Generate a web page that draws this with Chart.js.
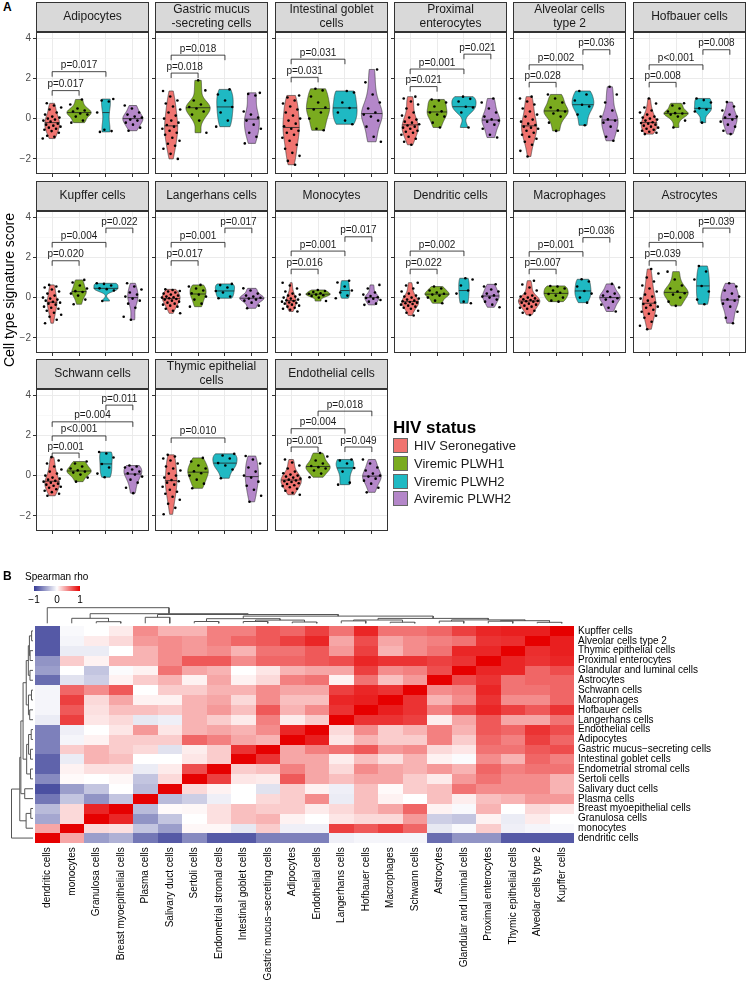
<!DOCTYPE html>
<html>
<head>
<meta charset="utf-8">
<script src="https://cdn.jsdelivr.net/npm/chart.js@4.4.1/dist/chart.umd.min.js"></script>
<style>
  body { margin: 0; background: #fff; font-family: "Liberation Sans", Arial, sans-serif; }
  #page { position: relative; width: 747px; height: 982px; overflow: hidden; }
  #page canvas { position: absolute; }
  .lbl { position: absolute; white-space: nowrap; color: #000; }
</style>
</head>
<body>
<div id="page"></div>
<script>
// ---------- panel A data ----------
const groupNames = ['HIV Seronegative', 'Viremic PLWH1', 'Viremic PLWH2', 'Aviremic PLWH2'];
const yTicks = [-2, -1, 0, 1, 2, 3, 4];
const panelTitles = ['Adipocytes', 'Gastric mucus\n-secreting cells', 'Intestinal goblet\ncells',
  'Proximal\nenterocytes', 'Alveolar cells\ntype 2', 'Hofbauer cells', 'Kupffer cells',
  'Langerhans cells', 'Monocytes', 'Dendritic cells', 'Macrophages', 'Astrocytes',
  'Schwann cells', 'Thymic epithelial\ncells', 'Endothelial cells'];

// signature scores per group (seronegative, viremic1, viremic2, aviremic)
const adipocytes = [
  [-0.99,-0.9,-0.85,-0.7,-0.62,-0.55,-0.5,-0.45,-0.4,-0.35,-0.3,-0.25,-0.15,-0.1,-0.05,0,0.05,0.1,0.2,0.3,0.45,0.55,0.65,0.76],
  [-0.2,-0.1,0.1,0.2,0.25,0.35,0.4,0.5,0.7,0.95],
  [-0.66,-0.62,-0.55,0.3,0.85,0.9,0.97],
  [-0.6,-0.45,-0.3,-0.2,-0.1,-0.05,0.05,0.1,0.2,0.3,0.5,0.65]];
const gastric = [
  [-2.0,-1.75,-1.5,-1.35,-1.25,-1.1,-0.95,-0.8,-0.7,-0.6,-0.5,-0.4,-0.32,-0.2,-0.1,0,0.15,0.3,0.45,0.6,0.75,0.9,1.1,1.37],
  [-0.7,-0.1,0.2,0.35,0.5,0.58,0.7,0.9,1.4,1.9],
  [-0.4,-0.1,0.3,0.58,0.9,1.2,1.45],
  [-1.23,-0.9,-0.7,-0.5,-0.3,-0.1,0.05,0.2,0.35,1.15,1.22,1.28]];
const intestinal = [
  [-2.29,-2.1,-1.85,-1.7,-1.5,-1.3,-1.1,-0.95,-0.8,-0.7,-0.6,-0.5,-0.38,-0.25,-0.1,0,0.15,0.3,0.45,0.6,0.75,0.9,1.05,1.15],
  [-0.58,-0.5,0,0.3,0.45,0.55,0.8,1.1,1.4,1.48],
  [-0.28,-0.1,0.3,0.53,0.8,1.3,1.37],
  [-1.15,-0.9,-0.4,-0.1,0.1,0.2,0.3,0.5,0.8,1.2,1.8,2.44]];
const proximal = [
  [-1.3,-1.15,-1.0,-0.9,-0.8,-0.7,-0.65,-0.6,-0.5,-0.45,-0.4,-0.34,-0.28,-0.2,-0.15,-0.05,0.05,0.15,0.3,0.5,0.7,0.85,1.0,1.09],
  [-0.44,-0.2,0.1,0.2,0.3,0.36,0.6,0.8,0.9,0.95],
  [-0.44,0.3,0.55,0.59,0.85,0.98,1.09],
  [-0.94,-0.8,-0.5,-0.3,-0.15,-0.1,-0.04,0.1,0.3,0.5,0.8,1.0]];
const alveolar = [
  [-1.88,-1.6,-1.3,-1.15,-1.0,-0.9,-0.8,-0.7,-0.6,-0.5,-0.45,-0.4,-0.32,-0.25,-0.15,-0.05,0.1,0.2,0.35,0.5,0.7,0.85,1.0,1.09],
  [-0.61,-0.2,0.1,0.25,0.35,0.41,0.55,0.8,1.0,1.2],
  [-0.33,0.2,0.6,0.69,0.9,1.2,1.37],
  [-1.1,-0.9,-0.6,-0.4,-0.2,-0.1,-0.04,0.1,0.4,0.8,1.2,1.58]];
const hofbauer = [
  [-0.77,-0.7,-0.65,-0.6,-0.55,-0.5,-0.45,-0.4,-0.35,-0.3,-0.25,-0.22,-0.18,-0.1,-0.05,0,0.05,0.1,0.2,0.3,0.4,0.55,0.75,1.0],
  [-0.44,-0.1,0.1,0.2,0.25,0.27,0.35,0.5,0.65,0.76],
  [-0.2,0.35,0.45,0.51,0.8,0.92,1.0],
  [-0.77,-0.6,-0.4,-0.3,-0.15,-0.05,0.05,0.1,0.2,0.4,0.6,0.82]];
const kupffer = [
  [-1.27,-1.1,-0.95,-0.85,-0.75,-0.65,-0.55,-0.5,-0.45,-0.35,-0.3,-0.25,-0.21,-0.15,-0.1,-0.05,0,0.1,0.2,0.3,0.4,0.5,0.55,0.63],
  [-0.33,-0.1,0.1,0.2,0.28,0.32,0.45,0.6,0.75,0.88],
  [-0.17,0.35,0.42,0.46,0.6,0.68,0.71],
  [-1.1,-0.95,-0.5,-0.3,-0.15,-0.05,0.05,0.15,0.25,0.4,0.55,0.71]];
const langerhans = [
  [-0.78,-0.65,-0.55,-0.45,-0.4,-0.35,-0.3,-0.25,-0.2,-0.15,-0.1,-0.07,-0.03,0,0.02,0.05,0.1,0.15,0.2,0.25,0.3,0.33,0.38,0.41],
  [-0.45,-0.3,-0.1,0.05,0.15,0.21,0.35,0.45,0.55,0.63],
  [-0.03,0.05,0.25,0.33,0.5,0.62,0.68],
  [-0.53,-0.4,-0.25,-0.15,-0.1,-0.05,-0.01,0.05,0.1,0.2,0.35,0.46]];
const monocytes = [
  [-0.69,-0.6,-0.55,-0.5,-0.45,-0.4,-0.35,-0.3,-0.27,-0.24,-0.2,-0.17,-0.13,-0.1,-0.05,0,0.05,0.1,0.15,0.2,0.3,0.45,0.6,0.74],
  [-0.17,0,0.08,0.12,0.15,0.19,0.22,0.28,0.33,0.38],
  [-0.03,0.1,0.25,0.35,0.55,0.75,0.84],
  [-0.36,-0.3,-0.2,-0.12,-0.06,-0.02,0.02,0.08,0.15,0.25,0.45,0.63]];
const dendritic = [
  [-0.89,-0.75,-0.65,-0.55,-0.5,-0.45,-0.4,-0.35,-0.32,-0.28,-0.25,-0.22,-0.18,-0.15,-0.1,-0.05,0,0.05,0.1,0.2,0.3,0.45,0.6,0.74],
  [-0.28,-0.15,0,0.1,0.15,0.19,0.25,0.35,0.45,0.55],
  [-0.28,-0.2,0.2,0.35,0.6,0.9,0.96],
  [-0.48,-0.35,-0.2,-0.1,0,0.05,0.11,0.2,0.3,0.4,0.55,0.66]];
const macrophages = [
  [-0.86,-0.75,-0.65,-0.55,-0.5,-0.45,-0.4,-0.35,-0.3,-0.25,-0.2,-0.18,-0.16,-0.12,-0.08,-0.04,0,0.05,0.1,0.2,0.35,0.5,0.65,0.84],
  [-0.2,-0.15,0,0.1,0.18,0.24,0.35,0.45,0.55,0.58],
  [-0.25,0,0.2,0.33,0.55,0.8,0.91],
  [-0.69,-0.5,-0.35,-0.2,-0.1,-0.03,0.03,0.1,0.2,0.3,0.5,0.68]];
const astrocytes = [
  [-1.57,-1.4,-1.2,-1.0,-0.9,-0.8,-0.7,-0.6,-0.5,-0.45,-0.38,-0.32,-0.24,-0.15,-0.05,0.05,0.15,0.3,0.45,0.6,0.8,1.0,1.2,1.42],
  [-0.41,-0.2,0,0.15,0.22,0.3,0.45,0.6,0.9,1.29],
  [-0.33,-0.1,0.3,0.58,0.9,1.3,1.57],
  [-1.27,-1.0,-0.7,-0.45,-0.3,-0.15,-0.09,0.05,0.2,0.35,0.55,0.71]];
const schwann = [
  [-1.0,-0.9,-0.82,-0.75,-0.68,-0.6,-0.55,-0.5,-0.45,-0.4,-0.35,-0.3,-0.26,-0.2,-0.15,-0.1,0,0.1,0.2,0.3,0.45,0.6,0.75,0.92],
  [-0.3,-0.1,0.05,0.15,0.2,0.26,0.35,0.45,0.6,0.7],
  [-0.08,0.1,0.4,0.58,0.9,1.1,1.17],
  [-0.87,-0.6,-0.35,-0.2,-0.05,0.05,0.11,0.2,0.3,0.4,0.45,0.5]];
const thymic = [
  [-1.92,-1.6,-1.4,-1.2,-1.05,-0.9,-0.8,-0.7,-0.55,-0.45,-0.35,-0.28,-0.22,-0.1,0,0.1,0.25,0.35,0.45,0.6,0.75,0.85,0.95,1.03],
  [-0.63,-0.4,-0.2,0,0.12,0.22,0.35,0.5,0.7,0.88],
  [-0.13,0.3,0.5,0.62,0.85,1.0,1.08],
  [-1.3,-1.0,-0.7,-0.5,-0.3,-0.1,0,0.2,0.4,0.6,0.8,0.97]];
const endothelial = [
  [-0.95,-0.85,-0.75,-0.65,-0.58,-0.52,-0.48,-0.42,-0.38,-0.32,-0.28,-0.24,-0.2,-0.15,-0.1,-0.05,0,0.05,0.12,0.2,0.35,0.5,0.65,0.8],
  [-0.08,0.1,0.25,0.35,0.42,0.48,0.6,0.75,0.95,1.12],
  [-0.45,-0.35,0.2,0.38,0.6,0.75,0.8],
  [-0.83,-0.6,-0.4,-0.25,-0.15,-0.05,0,0.1,0.25,0.4,0.6,0.8]];

// pairwise tests: [group a, group b, label]
const comparisons = [
  [[1,2,'p=0.017'],[1,3,'p=0.017']],
  [[1,2,'p=0.018'],[1,3,'p=0.018']],
  [[1,2,'p=0.031'],[1,3,'p=0.031']],
  [[1,2,'p=0.021'],[1,3,'p=0.001'],[3,4,'p=0.021']],
  [[1,2,'p=0.028'],[1,3,'p=0.002'],[3,4,'p=0.036']],
  [[1,2,'p=0.008'],[1,3,'p<0.001'],[3,4,'p=0.008']],
  [[1,2,'p=0.020'],[1,3,'p=0.004'],[3,4,'p=0.022']],
  [[1,2,'p=0.017'],[1,3,'p=0.001'],[3,4,'p=0.017']],
  [[1,2,'p=0.016'],[1,3,'p=0.001'],[3,4,'p=0.017']],
  [[1,2,'p=0.022'],[1,3,'p=0.002']],
  [[1,2,'p=0.007'],[1,3,'p=0.001'],[3,4,'p=0.036']],
  [[1,2,'p=0.039'],[1,3,'p=0.008'],[3,4,'p=0.039']],
  [[1,2,'p=0.001'],[1,3,'p<0.001'],[1,4,'p=0.004'],[3,4,'p=0.011']],
  [[1,3,'p=0.010']],
  [[1,2,'p=0.001'],[3,4,'p=0.049'],[1,3,'p=0.004'],[2,4,'p=0.018']]
];
// bracket heights (score units)
const bracketY = [
  [1.39,2.33],[2.26,3.15],[2.05,2.95],[1.59,2.46,3.2],[1.8,2.67,3.42],[1.8,2.67,3.42],
  [1.83,2.74,3.45],[1.83,2.74,3.45],[1.41,2.31,3.02],[1.41,2.31],[1.41,2.28,2.98],[1.83,2.74,3.45],
  [1.12,1.97,2.67,3.5],[1.87],[1.42,1.42,2.33,3.2]
];

// ---------- panel B data ----------
const cellTypes = ['dendritic cells','monocytes','Granulosa cells','Breast myoepithelial cells','Plasma cells',
  'Salivary duct cells','Sertoli cells','Endometrial stromal cells','Intestinal goblet cells',
  'Gastric mucus\u2212secreting cells','Adipocytes','Endothelial cells','Langerhans cells','Hofbauer cells',
  'Macrophages','Schwann cells','Astrocytes','Glandular and luminal cells','Proximal enterocytes',
  'Thymic epithelial cells','Alveolar cells type 2','Kupffer cells'];
const rowTypes = cellTypes.slice().reverse();
// Spearman rho, rows top->bottom (rowTypes), columns left->right (cellTypes)
const rho = [
  [-0.85,-0.03,0,0.08,0.45,0.3,0.3,0.5,0.5,0.65,0.6,0.75,0.55,0.85,0.55,0.55,0.6,0.75,0.85,0.88,0.88,1],
  [-0.85,-0.05,0.08,0.15,0.4,0.45,0.4,0.5,0.6,0.65,0.75,0.85,0.35,0.7,0.35,0.45,0.5,0.55,0.8,0.82,1,0.88],
  [-0.85,-0.1,-0.1,0,0.3,0.45,0.4,0.45,0.3,0.55,0.55,0.65,0.4,0.75,0.3,0.45,0.55,0.85,0.85,1,0.82,0.88],
  [-0.55,0.2,0.05,0.3,0.3,0.45,0.65,0.65,0.45,0.6,0.6,0.65,0.7,0.85,0.8,0.8,0.75,0.8,1,0.85,0.8,0.85],
  [-0.5,0,-0.3,-0.02,0.05,0.55,0.35,0.3,0,0.1,0.3,0.35,0.35,0.75,0.45,0.5,0.7,1,0.85,0.85,0.6,0.7],
  [-0.75,-0.15,-0.25,0.05,0.2,0.3,0.05,0.35,0.05,0.15,0.5,0.55,0.05,0.55,0.25,0.4,1,0.7,0.8,0.55,0.6,0.6],
  [-0.05,0.6,0.45,0.65,0,0.2,0.2,0.3,0.3,0.45,0.35,0.35,0.75,0.85,0.8,1,0.45,0.5,0.85,0.55,0.55,0.6],
  [-0.05,0.75,0.15,0.35,0.05,0.05,0.3,0.35,0.15,0.45,0.25,0.25,0.85,0.88,1,0.8,0.3,0.45,0.8,0.45,0.45,0.6],
  [-0.05,0.65,0.12,0.25,0.25,0.2,0.3,0.4,0.25,0.65,0.3,0.45,0.8,1,0.88,0.8,0.5,0.7,0.85,0.75,0.65,0.8],
  [-0.1,0.75,0.1,0.15,-0.12,-0.08,0.3,0.2,0.08,0.5,0.08,0.2,1,0.8,0.8,0.75,0.07,0.35,0.65,0.35,0.35,0.55],
  [-0.65,-0.08,0,0.1,0.4,0.1,0.3,0.35,0.3,0.45,0.85,1,0.15,0.45,0.2,0.3,0.5,0.3,0.65,0.6,0.8,0.7],
  [-0.65,-0.05,0.05,0.2,0.2,0.2,0.6,0.5,0.35,0.3,1,0.88,0.1,0.3,0.2,0.2,0.5,0.2,0.6,0.5,0.75,0.6],
  [-0.65,0.2,0.3,0.2,0.15,-0.15,0.07,0.2,0.8,1,0.35,0.5,0.55,0.65,0.4,0.45,0.15,0.1,0.55,0.55,0.65,0.7],
  [-0.8,-0.1,0.3,0.25,0,0,0.1,0.2,1,0.8,0.35,0.35,0.07,0.25,0.12,0.3,0.05,-0.02,0.45,0.3,0.6,0.5],
  [-0.8,0.05,0.12,0.12,-0.1,0.08,0.7,1,0.2,0.25,0.5,0.35,0.15,0.45,0.35,0.3,0.4,0.3,0.6,0.5,0.55,0.55],
  [-0.6,0.02,0,0.03,-0.3,0.15,1,0.75,0.1,0.08,0.65,0.35,0.25,0.35,0.35,0.2,0.08,0.4,0.55,0.45,0.45,0.3],
  [-0.9,-0.5,-0.3,0,-0.35,1,0.15,0.05,0,-0.15,0.2,0.05,-0.08,0.25,0.02,0.2,0.25,0.55,0.45,0.45,0.45,0.3],
  [-0.7,-0.3,-0.55,-0.3,1,-0.35,-0.25,-0.08,0,0.15,0.2,0.45,-0.1,0.25,0.05,0,0.25,0.07,0.25,0.3,0.4,0.4],
  [-0.35,0.15,0.85,1,-0.35,0.02,0.03,0.12,0.25,0.2,0.2,0.08,0.15,0.25,0.35,0.6,0.05,-0.03,0.3,0,0.15,0.1],
  [-0.45,0.15,1,0.85,-0.55,-0.3,0,0.12,0.25,0.3,0.05,0,0.1,0.15,0.15,0.4,-0.25,-0.3,0.05,-0.1,0.08,0],
  [0.35,1,0.15,0.12,-0.3,-0.5,0.03,0.03,-0.12,0.2,-0.08,-0.08,0.75,0.65,0.75,0.6,-0.12,-0.03,0.2,-0.08,-0.05,-0.03],
  [1,0.35,-0.5,-0.4,-0.7,-0.85,-0.6,-0.85,-0.85,-0.65,-0.65,-0.65,-0.08,-0.05,-0.05,-0.05,-0.75,-0.55,-0.55,-0.85,-0.85,-0.85]
];
// hierarchical clustering of cellTypes: [left, right, height]; >=0 leaf index, -k merge k
const merges = [
  [2, 3, 1.6], [1, -1, 5.0], [4, 5, 6.0], [6, 7, 1.8], [8, 9, 1.8], [10, 11, 1.3],
  [-5, -6, 3.2], [-4, -7, 4.6], [12, 13, 2.4], [14, 15, 1.1], [-9, -10, 3.3],
  [16, 17, 2.2], [18, 19, 2.1], [20, 21, 1.0], [-13, -14, 2.6], [-12, -15, 3.4],
  [-11, -16, 4.9], [-8, -17, 7.2], [-3, -18, 8.8], [-2, -19, 9.6], [0, -20, 15.6]
];

// ---------- helpers ----------
const FONT = '"Liberation Sans", Arial, sans-serif';
const groupFill = ['#F07470', '#7AAB1F', '#1FB9C3', '#B487C9'];
const panelScores = [adipocytes, gastric, intestinal, proximal, alveolar, hofbauer, kupffer,
  langerhans, monocytes, dendritic, macrophages, astrocytes, schwann, thymic, endothelial];
const page = document.getElementById('page');

function addText(txt, left, top, css) {
  const d = document.createElement('div');
  d.className = 'lbl';
  d.textContent = txt;
  d.style.left = left + 'px';
  d.style.top = top + 'px';
  if (css) d.style.cssText += css;
  page.appendChild(d);
  return d;
}
function addCanvas(left, top, w, h) {
  const c = document.createElement('canvas');
  c.width = w; c.height = h;
  c.style.left = left + 'px'; c.style.top = top + 'px';
  page.appendChild(c);
  return c;
}
function quantile(s, p) {
  const h = (s.length - 1) * p, lo = Math.floor(h);
  return s[lo] + (h - lo) * ((s[lo + 1] !== undefined ? s[lo + 1] : s[lo]) - s[lo]);
}
function kde(vals) {
  const s = vals.slice().sort((a, b) => a - b), n = s.length;
  const mean = s.reduce((a, b) => a + b, 0) / n;
  const sd = Math.sqrt(s.reduce((a, b) => a + (b - mean) * (b - mean), 0) / (n - 1));
  const iqr = quantile(s, 0.75) - quantile(s, 0.25);
  const bw = 0.9 * Math.min(sd, iqr / 1.34) * Math.pow(n, -0.2);
  const out = [];
  for (let i = 0; i < 128; i++) {
    const y = s[0] + (s[n - 1] - s[0]) * i / 127;
    let d = 0;
    for (const v of s) { const z = (y - v) / bw; d += Math.exp(-0.5 * z * z); }
    out.push([y, d / (n * bw * Math.sqrt(2 * Math.PI))]);
  }
  return { pts: out, median: quantile(s, 0.5) };
}
function jit(k) { return (((k * 0.6180339887) % 1) - 0.5) * 0.7; }

// ---------- panel A ----------
function makePanel(idx) {
  const col = idx % 6, row = Math.floor(idx / 6);
  const plotLeft = Math.round(36 + col * 119.3);
  const stripTop = Math.round(2 + row * 178.7);
  const cv = addCanvas(plotLeft - 24, stripTop, 140, 180);
  const scores = panelScores[idx];
  const dens = scores.map(kde);
  const maxD = Math.max(...dens.map(d => Math.max(...d.pts.map(p => p[1]))));

  const deco = {
    id: 'deco' + idx,
    beforeDatasetsDraw(chart) {
      const { ctx, scales: { x, y } } = chart;
      dens.forEach((d, g) => {
        const cx = g + 1;
        ctx.save();
        ctx.beginPath();
        d.pts.forEach((p, i) => {
          const px = x.getPixelForValue(cx + 0.45 * p[1] / maxD), py = y.getPixelForValue(p[0]);
          i ? ctx.lineTo(px, py) : ctx.moveTo(px, py);
        });
        for (let i = d.pts.length - 1; i >= 0; i--) {
          const p = d.pts[i];
          ctx.lineTo(x.getPixelForValue(cx - 0.45 * p[1] / maxD), y.getPixelForValue(p[0]));
        }
        ctx.closePath();
        ctx.fillStyle = groupFill[g];
        ctx.fill();
        ctx.strokeStyle = '#333';
        ctx.lineWidth = 0.6;
        ctx.stroke();
        // median line
        let hw = 0;
        for (let i = 1; i < d.pts.length; i++) {
          if (d.pts[i][0] >= d.median) {
            const a = d.pts[i - 1], b = d.pts[i], t = (d.median - a[0]) / (b[0] - a[0] || 1);
            hw = 0.45 * (a[1] + t * (b[1] - a[1])) / maxD;
            break;
          }
        }
        ctx.beginPath();
        ctx.moveTo(x.getPixelForValue(cx - hw), y.getPixelForValue(d.median));
        ctx.lineTo(x.getPixelForValue(cx + hw), y.getPixelForValue(d.median));
        ctx.strokeStyle = '#222';
        ctx.lineWidth = 0.8;
        ctx.stroke();
        ctx.restore();
      });
    },
    afterDatasetsDraw(chart) {
      const { ctx, scales: { x, y } } = chart;
      ctx.save();
      ctx.strokeStyle = '#1a1a1a';
      ctx.fillStyle = '#1a1a1a';
      ctx.lineWidth = 0.8;
      ctx.font = '10px ' + FONT;
      ctx.textAlign = 'center';
      ctx.textBaseline = 'alphabetic';
      comparisons[idx].forEach((c, k) => {
        const lv = bracketY[idx][k];
        const x1 = x.getPixelForValue(c[0]), x2 = x.getPixelForValue(c[1]);
        const yl = y.getPixelForValue(lv), yb = y.getPixelForValue(lv - 0.25);
        ctx.beginPath();
        ctx.moveTo(x1, yb); ctx.lineTo(x1, yl); ctx.lineTo(x2, yl); ctx.lineTo(x2, yb);
        ctx.stroke();
        ctx.fillText(c[2], (x1 + x2) / 2, yl - 3.5);
      });
      ctx.restore();
    },
    afterDraw(chart) {
      const { ctx, chartArea: a } = chart;
      ctx.save();
      ctx.strokeStyle = '#333';
      ctx.lineWidth = 1;
      ctx.strokeRect(a.left + 0.5, a.top + 0.5, a.right - a.left - 1, a.bottom - a.top - 1);
      // facet strip
      ctx.fillStyle = '#D9D9D9';
      ctx.fillRect(a.left, a.top - 30, a.right - a.left, 30);
      ctx.strokeRect(a.left + 0.5, a.top - 29.5, a.right - a.left - 1, 29);
      ctx.fillStyle = '#1a1a1a';
      ctx.font = '12px ' + FONT;
      ctx.textAlign = 'center';
      ctx.textBaseline = 'middle';
      const lines = panelTitles[idx].split('\n');
      const cxp = (a.left + a.right) / 2, cyp = a.top - 15;
      lines.forEach((t, i) => ctx.fillText(t, cxp, cyp + (i - (lines.length - 1) / 2) * 14));
      ctx.restore();
    }
  };

  const isMajor = v => v % 2 === 0;
  new Chart(cv, {
    type: 'scatter',
    data: {
      datasets: scores.map((arr, g) => ({
        data: arr.map((v, k) => ({ x: g + 1 + jit(k + g * 5 + idx * 3), y: v })),
        pointRadius: 1.3,
        pointBackgroundColor: '#000',
        pointBorderWidth: 0,
        pointHoverRadius: 0
      }))
    },
    options: {
      responsive: false,
      animation: false,
      events: [],
      layout: { padding: { top: 30, right: 3, bottom: 1, left: 0 } },
      plugins: { legend: { display: false }, tooltip: { enabled: false } },
      scales: {
        x: {
          type: 'linear', min: 0.4, max: 4.6,
          afterBuildTicks: s => { s.ticks = [1, 2, 3, 4].map(v => ({ value: v })); },
          afterFit: s => { s.height = 6; },
          ticks: { display: false },
          grid: { color: '#EBEBEB', lineWidth: 1, tickColor: '#333', tickLength: 3, tickWidth: 1 },
          border: { display: false }
        },
        y: {
          type: 'linear', min: -2.75, max: 4.3,
          afterBuildTicks: s => { s.ticks = yTicks.map(v => ({ value: v })); },
          afterFit: s => { s.width = 24; },
          ticks: {
            padding: 2, color: '#4D4D4D', font: { size: 10, family: FONT },
            callback: v => (col === 0 && isMajor(v)) ? (v < 0 ? '\u2212' + (-v) : String(v)) : ''
          },
          grid: {
            color: c => isMajor(c.tick.value) ? '#EBEBEB' : '#F3F3F3',
            lineWidth: c => isMajor(c.tick.value) ? 1 : 0.6,
            tickColor: c => isMajor(c.tick.value) ? '#333' : 'rgba(0,0,0,0)',
            tickLength: 3, tickWidth: 1
          },
          border: { display: false }
        }
      }
    },
    plugins: [deco]
  });
}
panelScores.forEach((_, i) => makePanel(i));

addText('A', 3, 0, 'font-weight:bold;font-size:12px;');
addText('Cell type signature score', 8.5, 290,
  'font-size:14px;transform:translate(-50%,-50%) rotate(-90deg);');

// legend
addText('HIV status', 393, 418, 'font-weight:bold;font-size:17px;');
groupNames.forEach((n, i) => {
  const top = Math.round(438 + i * 17.8);
  addText('', 393, top, 'width:15px;height:15px;box-sizing:border-box;border:1px solid #666;background:' + groupFill[i] + ';');
  addText(n, 414, top - 0.5, 'font-size:13px;line-height:16px;color:#1a1a1a;');
});

// ---------- panel B ----------
addText('B', 3, 569, 'font-weight:bold;font-size:12px;');
addText('Spearman rho', 25, 571, 'font-size:10px;');
addText('', 34, 586, 'width:46px;height:5px;background:linear-gradient(to right, rgb(55,60,150), #fff, rgb(230,0,0));');
addText('\u22121', 34, 594, 'font-size:10px;transform:translateX(-50%);');
addText('0', 57, 594, 'font-size:10px;transform:translateX(-50%);');
addText('1', 80, 594, 'font-size:10px;transform:translateX(-50%);');

function rhoColor(v) {
  const t = Math.min(1, Math.abs(v));
  const end = v >= 0 ? [230, 0, 0] : [55, 60, 150];
  const c = end.map(e => Math.round(255 + (e - 255) * t));
  return 'rgb(' + c.join(',') + ')';
}

const cells = {
  id: 'cells',
  beforeDatasetsDraw(chart) {
    const { ctx, scales: { x, y } } = chart;
    rho.forEach((r, i) => r.forEach((v, j) => {
      const x0 = Math.round(x.getPixelForValue(j - 0.5)), x1 = Math.round(x.getPixelForValue(j + 0.5));
      const y0 = Math.round(y.getPixelForValue(i - 0.5)), y1 = Math.round(y.getPixelForValue(i + 0.5));
      ctx.fillStyle = rhoColor(v);
      ctx.fillRect(x0, y0, x1 - x0, y1 - y0);
    }));
  }
};
const idxTicks = s => { s.ticks = cellTypes.map((_, i) => ({ value: i })); };
new Chart(addCanvas(0, 600, 747, 382), {
  type: 'scatter',
  data: { datasets: [{ data: [] }] },
  options: {
    responsive: false, animation: false, events: [],
    layout: { padding: { left: 35, top: 26, right: 0, bottom: 0 } },
    plugins: { legend: { display: false }, tooltip: { enabled: false } },
    scales: {
      x: {
        type: 'linear', min: -0.5, max: 21.5,
        afterBuildTicks: idxTicks,
        afterFit: s => { s.height = 138.7; },
        ticks: { autoSkip: false, minRotation: 90, maxRotation: 90, padding: 4, color: '#000',
          font: { size: 10, family: FONT }, callback: v => cellTypes[v] },
        grid: { display: false, drawTicks: false }, border: { display: false }
      },
      y: {
        type: 'linear', position: 'right', reverse: true, min: -0.5, max: 21.5,
        afterBuildTicks: idxTicks,
        afterFit: s => { s.width = 173; },
        ticks: { autoSkip: false, padding: 4, color: '#000',
          font: { size: 10, family: FONT }, callback: v => rowTypes[v] },
        grid: { display: false, drawTicks: false }, border: { display: false }
      }
    }
  },
  plugins: [cells]
});

// dendrograms
function dendroLinks() {
  const nodeX = [];
  const pos = r => r >= 0 ? { p: r, h: 0 } : { p: nodeX[-r - 1], h: merges[-r - 1][2] };
  return merges.map((m, k) => {
    const L = pos(m[0]), R = pos(m[1]);
    nodeX[k] = (L.p + R.p) / 2;
    return [L, R, m[2]];
  });
}
const links = dendroLinks();
const rootH = merges[merges.length - 1][2];
function linkSet(pts) {
  return { data: pts, showLine: true, pointRadius: 0, borderColor: '#555', borderWidth: 1, fill: false, clip: false };
}
const hide = { display: false };
new Chart(addCanvas(35, 600, 539, 26), {
  type: 'scatter',
  data: { datasets: links.map(([L, R, h]) => linkSet([
    { x: L.p, y: L.h }, { x: L.p, y: h }, { x: R.p, y: h }, { x: R.p, y: R.h }])) },
  options: {
    responsive: false, animation: false, events: [],
    layout: { padding: { top: 7.7, bottom: 2.7, left: 0, right: 0 } },
    plugins: { legend: { display: false }, tooltip: { enabled: false } },
    scales: {
      x: Object.assign({ type: 'linear', min: -0.5, max: 21.5 }, hide),
      y: Object.assign({ type: 'linear', min: 0, max: rootH }, hide)
    }
  }
});
new Chart(addCanvas(0, 626, 35, 217), {
  type: 'scatter',
  data: { datasets: links.map(([L, R, h]) => linkSet([
    { x: L.h, y: 21 - L.p }, { x: h, y: 21 - L.p }, { x: h, y: 21 - R.p }, { x: R.h, y: 21 - R.p }])) },
  options: {
    responsive: false, animation: false, events: [],
    layout: { padding: { top: 0, bottom: 0, left: 11.5, right: 2 } },
    plugins: { legend: { display: false }, tooltip: { enabled: false } },
    scales: {
      x: Object.assign({ type: 'linear', min: 0, max: rootH, reverse: true }, hide),
      y: Object.assign({ type: 'linear', min: -0.5, max: 21.5, reverse: true }, hide)
    }
  }
});
</script>
</body>
</html>
